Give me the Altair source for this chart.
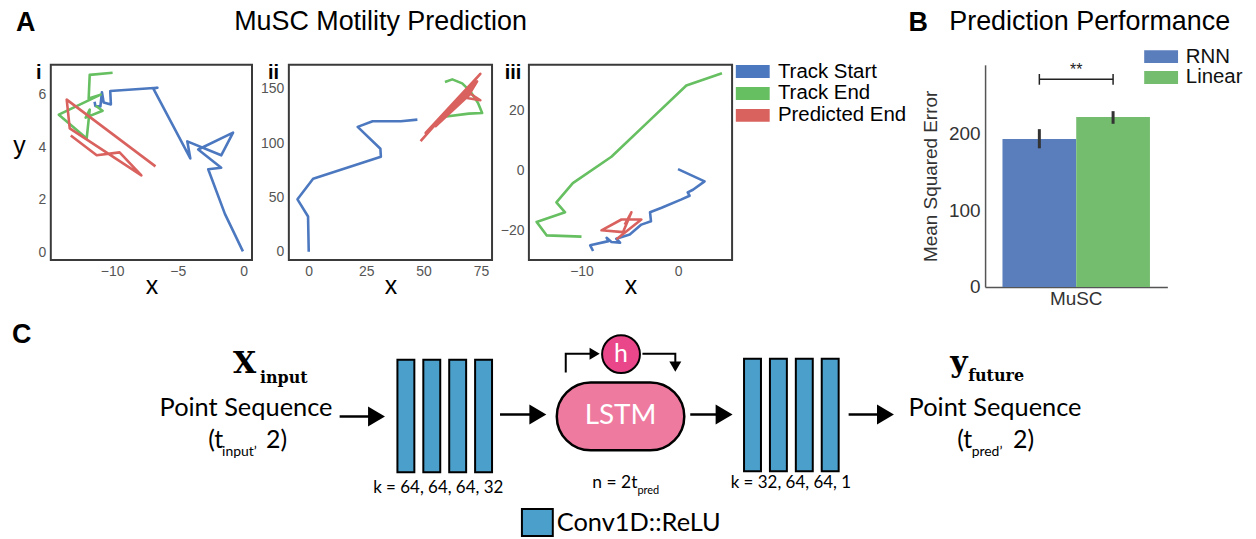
import altair as alt
import pandas as pd

FONT = "Liberation Sans"
DFONT = "Lato"
SERIF = "DejaVu Serif"

# ---------------- Panel A : MuSC tracks ----------------
SERIES = ["Track Start", "Track End", "Predicted End"]
SERIES_COLORS = ["#4C78C0", "#66BF60", "#D9625F"]

I_START_X = [-0.05, -1.42, -2.69, -1.70, -3.45, -0.80, -1.70, -4.28, -4.05, -6.86, -6.55,
             -10.14, -10.09, -10.64, -10.77, -10.89, -11.27, -11.33]
I_START_Y = [0.05, 1.47, 3.16, 3.22, 3.91, 4.55, 3.69, 4.22, 3.57, 6.22, 6.25,
             6.13, 5.62, 5.69, 6.08, 5.54, 5.56, 5.72]
I_END_X = [-11.25, -10.72, -12.01, -11.70, -11.93, -14.05, -10.87, -11.78, -11.70, -9.96]
I_END_Y = [5.57, 5.38, 5.12, 5.42, 4.33, 5.23, 5.99, 5.84, 6.74, 6.82]
I_PRED_X = [-6.70, -13.45, -13.22, -7.77, -9.43, -11.17, -13.14]
I_PRED_Y = [3.27, 5.80, 4.71, 2.93, 3.80, 3.69, 4.44]

II_START_X = [0.0, -0.3, -4.9, 1.9, 31.4, 31.2, 21.3, 27.8, 40.1, 47.3]
II_START_Y = [0.0, 32.4, 48.3, 67.3, 87.5, 94.9, 115.1, 120.3, 120.3, 121.8]
II_END_X = [58.1, 69.7, 75.5, 73.7, 70.4, 66.8, 62.5, 59.3]
II_END_Y = [124.2, 127.3, 127.9, 137.1, 147.8, 155.2, 158.9, 156.4]
II_PRED_X = [48.7, 74.7, 50.9, 73.3, 68.9, 74.7, 70.4, 55.2, 71.9]
II_PRED_Y = [101.9, 164.0, 109.5, 157.0, 141.7, 139.6, 145.6, 115.7, 152.4]

III_START_X = [-8.8, -9.1, -7.2, -7.4, -6.9, -6.0, -6.4, -5.0, -3.8, -2.8, -2.9, -1.7,
               0.3, 1.2, 1.0, 1.55, 2.75, 0.0]
III_START_Y = [-26.7, -24.8, -23.4, -22.3, -23.7, -23.9, -22.6, -21.2, -17.9, -16.8, -13.8, -12.3,
               -9.6, -8.3, -7.2, -6.3, -3.5, 0.55]
III_END_X = [-10.0, -13.6, -14.65, -11.7, -12.6, -10.9, -6.9, -3.1, 0.86, 4.55]
III_END_Y = [-21.9, -21.5, -17.0, -13.8, -10.5, -4.1, 4.7, 16.3, 28.4, 32.5]
III_PRED_X = [-6.38, -3.80, -5.86, -7.93, -5.69, -4.83, -5.52]
III_PRED_Y = [-22.8, -16.2, -16.2, -19.8, -20.4, -13.8, -17.9]

# ---------------- Panel B : bars ----------------
MODELS = ["RNN", "Linear"]
MODEL_COLORS = ["#5A7DBB", "#74BD6E"]
GROUP = "MuSC"
MSE = [193, 222]
ERR_LO = [181, 213]
ERR_HI = [206, 229.5]
SIG_Y = 271
SIG_TICK = [264, 278]
SIG_TEXT_Y = 283
SIG_TEXT = "**"

# ---------------- Panel C : schematic (diagram units) ----------------
CONV_COLOR = "#4B9FCB"
CONV_X0 = [395, 421, 447, 473, 743, 769, 795, 821]
CONV_X1 = [412, 438, 464, 490, 760, 786, 812, 838]
CONV_Y0 = [59, 59, 59, 59, 58, 58, 58, 58]
CONV_Y1 = [172, 172, 172, 172, 171, 171, 171, 171]
ARROW_X0 = [337, 498, 689, 848]
ARROW_X1 = [374, 536, 723, 885]
ARROW_Y = [116, 114, 114, 114]
LOOP_ID = ["in", "in", "in", "out", "out", "out"]
LOOP_X = [564, 564, 593, 641, 674, 674]
LOOP_Y = [72, 53, 53, 53, 53, 66]
SMALL_RIGHT = [(593, 53)]
SMALL_DOWN = [(674, 66)]
LSTM_BOX = [(555, 683, 82, 150)]
H_CIRCLE = [(619.5, 53.5)]
LEGEND_BOX = [(520, 551, 209, 236)]

RIGHT_HEAD = "M-0.85,-1L0.85,0L-0.85,1Z"
DOWN_HEAD = "M-1,-0.85L1,-0.85L0,0.85Z"
SWATCH = "M-2.615,-1L2.615,-1L2.615,1L-2.615,1Z"

# ---------------- helpers ----------------
AXIS_STYLE = dict(ticks=False, domain=False, grid=False, labelFont=FONT,
                  labelFontSize=14, labelColor="#555555", labelPadding=5)


def track_rows(xs_list, ys_list):
    rows = []
    for s, xs, ys in zip(SERIES, xs_list, ys_list):
        for k, (x, y) in enumerate(zip(xs, ys)):
            rows.append({"series": s, "step": k, "x": x, "y": y})
    return pd.DataFrame(rows)


def note(text, dx, dy, **kw):
    return alt.Chart(pd.DataFrame({"t": [text]})).mark_text(**kw).encode(
        text="t:N", x=alt.value(dx), y=alt.value(dy))


def panel(tag, tag_dx, df, xdom, ydom, xticks, yticks, width, legend, ytitle, extra):
    if ytitle:
        yaxis = alt.Axis(values=yticks, title="y", titleAngle=0, titleX=-32, titleY=89,
                         titleAlign="center", titleBaseline="alphabetic", titleFont=FONT,
                         titleFontSize=25, titleFontWeight="normal", titleColor="black",
                         **AXIS_STYLE)
    else:
        yaxis = alt.Axis(values=yticks, title=None, **AXIS_STYLE)
    xs = alt.Scale(domain=xdom, nice=False, zero=False)
    ys = alt.Scale(domain=ydom, nice=False, zero=False)
    lines = alt.Chart(df).mark_line(strokeJoin="round").encode(
        x=alt.X("x:Q", scale=xs,
                axis=alt.Axis(values=xticks, title="x", titleFont=FONT, titleFontSize=25,
                              titleFontWeight="normal", titleColor="black", titleY=34,
                              titleBaseline="alphabetic", **AXIS_STYLE)),
        y=alt.Y("y:Q", scale=ys, axis=yaxis),
        color=alt.Color("series:N", scale=alt.Scale(domain=SERIES, range=SERIES_COLORS),
                        legend=None),
        order="step:Q",
        strokeWidth=alt.value(2.6),
    )
    layers = [lines]
    if legend is not None:
        # zero-size cells at each track's first point: they only carry the filled legend
        firsts = df.groupby("series", sort=False).first().reset_index().rename(
            columns={"series": "track"})
        layers.append(alt.Chart(firsts).mark_rect(strokeWidth=0).encode(
            x=alt.X("x:Q", scale=xs), x2="x:Q", y=alt.Y("y:Q", scale=ys), y2="y:Q",
            fill=alt.Fill("track:N", sort=SERIES, scale=alt.Scale(range=SERIES_COLORS),
                          legend=legend)))
    tag_text = note(tag, tag_dx, 14, font=FONT, fontSize=20, fontWeight="bold",
                    align="center", baseline="alphabetic", color="black")
    return alt.layer(*layers, tag_text, *extra).properties(
        width=width, height=196,
        view=alt.ViewBackground(stroke="#3a3a3a", strokeWidth=2))


def spacer(w):
    return alt.Chart(pd.DataFrame({"v": [0]})).mark_point(opacity=0).encode(
        x=alt.value(0), y=alt.value(0)).properties(width=w, height=10)


legend_a = alt.Legend(orient="none", legendX=214.5, legendY=-3.5, title=None,
                      symbolType=SWATCH, symbolSize=169, symbolStrokeWidth=0,
                      labelFont=FONT, labelFontSize=20.5, labelColor="black", labelOffset=15,
                      rowPadding=1, padding=0, labelLimit=300)

p1 = panel("i", -12, track_rows([I_START_X, I_END_X, I_PRED_X], [I_START_Y, I_END_Y, I_PRED_Y]),
           [-14.66, 0.64], [-0.28, 7.12], [-10, -5, 0], [0, 2, 4, 6], 202, None, True,
           [note("A", -35, -34, font=FONT, fontSize=27, fontWeight="bold", align="left",
                 baseline="alphabetic", color="black"),
            note("MuSC Motility Prediction", 331, -35, font=FONT, fontSize=27, align="center",
                 baseline="alphabetic", color="black")])
p2 = panel("ii", -15.5, track_rows([II_START_X, II_END_X, II_PRED_X], [II_START_Y, II_END_Y, II_PRED_Y]),
           [-8.66, 79.8], [-7.7, 172.3], [0, 25, 50, 75], [0, 50, 100, 150], 204, None, False, [])
p3 = panel("iii", -16, track_rows([III_START_X, III_END_X, III_PRED_X], [III_START_Y, III_END_Y, III_PRED_Y]),
           [-15.45, 5.6], [-29.7, 35.3], [-10, 0], [-20, 0, 20], 204, legend_a, False, [])

# ---------------- bar chart ----------------
bar_df = pd.DataFrame({"group": [GROUP] * 2, "model": MODELS, "mse": MSE,
                       "lo": ERR_LO, "hi": ERR_HI})
bx = alt.X("group:N", scale=alt.Scale(paddingInner=0, paddingOuter=0.118),
           axis=alt.Axis(title=None, labelAngle=0, ticks=False, domain=True, domainColor="#555555",
                         domainWidth=1.5, grid=False, labelFont=FONT, labelFontSize=19,
                         labelColor="#333333", labelPadding=3))
bxo = alt.XOffset("model:N", scale=alt.Scale(domain=MODELS, paddingInner=0, paddingOuter=0))
by = alt.Y("mse:Q", scale=alt.Scale(domain=[0, 290], nice=False),
           axis=alt.Axis(values=[0, 100, 200], title="Mean Squared Error", ticks=False, domain=True,
                         domainColor="#555555", domainWidth=1.5, grid=False, labelFont=FONT,
                         labelFontSize=19, labelColor="#333333", labelPadding=5,
                         titleFont=FONT, titleFontSize=19, titleFontWeight="normal",
                         titleColor="#333333", titlePadding=8))
legend_b = alt.Legend(orient="none", legendX=166.5, legendY=-18.5, title=None,
                      symbolType=SWATCH, symbolSize=169,
                      symbolStrokeWidth=0, labelFont=FONT, labelFontSize=20.5, labelColor="#111111",
                      labelOffset=14.5, rowPadding=0, padding=0)
bars = alt.Chart(bar_df).mark_bar().encode(
    x=bx, xOffset=bxo, y=by,
    color=alt.Color("model:N", scale=alt.Scale(domain=MODELS, range=MODEL_COLORS), legend=legend_b))
errs = alt.Chart(bar_df).mark_rule(color="#333333", strokeWidth=3).encode(
    x="group:N", xOffset="model:N", y="lo:Q", y2="hi:Q")
sig_df = pd.DataFrame({"group": [GROUP] * 2, "model": MODELS, "y": [SIG_Y] * 2,
                       "t0": [SIG_TICK[0]] * 2, "t1": [SIG_TICK[1]] * 2})
sig_line = alt.Chart(sig_df).mark_line(color="#222222", strokeWidth=1.5).encode(
    x="group:N", xOffset="model:N", y="y:Q")
sig_ticks = alt.Chart(sig_df).mark_rule(color="#222222", strokeWidth=1.5).encode(
    x="group:N", xOffset="model:N", y="t0:Q", y2="t1:Q")
sig_text = alt.Chart(pd.DataFrame({"group": [GROUP], "y": [SIG_TEXT_Y], "t": [SIG_TEXT]})).mark_text(
    font=FONT, fontSize=16, color="#222222", baseline="middle").encode(x="group:N", y="y:Q", text="t:N")
bchart = alt.layer(
    bars, errs, sig_line, sig_ticks, sig_text,
    note("B", -77, -34, font=FONT, fontSize=27, fontWeight="bold", align="left",
         baseline="alphabetic", color="black"),
    note("Prediction Performance", 105, -35, font=FONT, fontSize=27, align="center",
         baseline="alphabetic", color="black"),
).properties(width=183, height=223)

top = alt.hconcat(spacer(10), p1, p2, p3, spacer(180), bchart,
                  spacing=37, bounds="flush").resolve_scale(color="independent",
                                                              fill="independent")

# ---------------- diagram ----------------
DX = alt.Scale(domain=[0, 1256], nice=False, zero=False)
DY = alt.Scale(domain=[0, 239], nice=False, zero=False, reverse=True)


def dxy(xf, yf):
    return dict(x=alt.X(xf, scale=DX, axis=None), y=alt.Y(yf, scale=DY, axis=None))


bounds_rect = alt.Chart(pd.DataFrame({"v": [0]})).mark_rect(opacity=0).encode(
    x=alt.value(0), x2=alt.value(1256), y=alt.value(-300), y2=alt.value(239))

conv_df = pd.DataFrame({"x0": CONV_X0, "x1": CONV_X1, "y0": CONV_Y0, "y1": CONV_Y1})
conv = alt.Chart(conv_df).mark_rect(fill=CONV_COLOR, stroke="black", strokeWidth=2).encode(
    x2="x1:Q", y2="y1:Q", **dxy("x0:Q", "y0:Q"))

arrow_df = pd.DataFrame({"x0": ARROW_X0, "x1": ARROW_X1, "y": ARROW_Y})
shafts = alt.Chart(arrow_df).mark_rule(color="black", strokeWidth=2.5).encode(
    x2="x1:Q", **dxy("x0:Q", "y:Q"))
heads = alt.Chart(arrow_df).mark_point(shape=RIGHT_HEAD, size=400, filled=True, color="black",
                                       opacity=1).encode(**dxy("x1:Q", "y:Q"))

loop_df = pd.DataFrame({"id": LOOP_ID, "k": list(range(len(LOOP_X))), "x": LOOP_X, "y": LOOP_Y})
loops = alt.Chart(loop_df).mark_line(color="black", strokeWidth=2).encode(
    detail="id:N", order="k:Q", **dxy("x:Q", "y:Q"))
sr_df = pd.DataFrame({"x": [p[0] for p in SMALL_RIGHT], "y": [p[1] for p in SMALL_RIGHT]})
sd_df = pd.DataFrame({"x": [p[0] for p in SMALL_DOWN], "y": [p[1] for p in SMALL_DOWN]})
small_r = alt.Chart(sr_df).mark_point(shape=RIGHT_HEAD, size=144, filled=True, color="black",
                                      opacity=1).encode(**dxy("x:Q", "y:Q"))
small_d = alt.Chart(sd_df).mark_point(shape=DOWN_HEAD, size=144, filled=True, color="black",
                                      opacity=1).encode(**dxy("x:Q", "y:Q"))

lstm_df = pd.DataFrame({"x0": [b[0] for b in LSTM_BOX], "x1": [b[1] for b in LSTM_BOX],
                        "y0": [b[2] for b in LSTM_BOX], "y1": [b[3] for b in LSTM_BOX]})
lstm = alt.Chart(lstm_df).mark_rect(cornerRadius=34, fill="#EE7AA0", stroke="black",
                                    strokeWidth=2.5).encode(x2="x1:Q", y2="y1:Q", **dxy("x0:Q", "y0:Q"))
h_df = pd.DataFrame({"x": [c[0] for c in H_CIRCLE], "y": [c[1] for c in H_CIRCLE]})
hcirc = alt.Chart(h_df).mark_point(shape="circle", size=1444, filled=True, fill="#E9478A",
                                   stroke="black", strokeWidth=2, opacity=1).encode(**dxy("x:Q", "y:Q"))

lg_df = pd.DataFrame({"x0": [b[0] for b in LEGEND_BOX], "x1": [b[1] for b in LEGEND_BOX],
                      "y0": [b[2] for b in LEGEND_BOX], "y1": [b[3] for b in LEGEND_BOX]})
lg_box = alt.Chart(lg_df).mark_rect(fill=CONV_COLOR, stroke="black", strokeWidth=2).encode(
    x2="x1:Q", y2="y1:Q", **dxy("x0:Q", "y0:Q"))


def dtext(texts, xs, ys, **kw):
    df = pd.DataFrame({"t": texts, "x": xs, "y": ys})
    return alt.Chart(df).mark_text(**kw).encode(text="t:N", **dxy("x:Q", "y:Q"))


t_main_c = dtext(["Point Sequence", "Point Sequence"], [243, 995], [108, 108],
                 font=DFONT, fontSize=25.5, align="center", baseline="middle", color="black")
t_main_l = dtext(["(t", "2)", "(t", "2)"], [205, 263, 957, 1013], [148, 148, 148, 148],
                 font=DFONT, fontSize=25, align="left", baseline="alphabetic", color="black")
t_sub = dtext(["input\u2019", "pred\u2019"], [219, 971.5], [156, 156],
              font=DFONT, fontSize=14, align="left", baseline="alphabetic", color="black")
t_k = dtext(["k = 64, 64, 64, 32", "k = 32, 64, 64, 1"], [436, 790], [188, 183],
            font=DFONT, fontSize=17, align="center", baseline="middle", color="black")
t_n = dtext(["n = 2t"], [636], [183], font=DFONT, fontSize=17.5, align="right",
            baseline="middle", color="black")
t_n_sub = dtext(["pred"], [636], [191], font=DFONT, fontSize=11, align="left",
                baseline="middle", color="black")
t_lstm = dtext(["LSTM"], [619], [116], font=DFONT, fontSize=28, align="center",
               baseline="middle", color="white")
t_h = dtext(["h"], [619.5], [53], font=DFONT, fontSize=25, align="center",
            baseline="middle", color="white")
t_leg = dtext(["Conv1D::ReLU"], [555], [223], font=DFONT, fontSize=25.5, align="left",
              baseline="middle", color="black")
t_big = dtext(["X", "y"], [230, 950], [72, 71], font=SERIF, fontSize=30, fontWeight="bold",
              align="left", baseline="alphabetic", color="black")
t_big_sub = dtext(["input", "future"], [257, 968], [82, 80], font=SERIF, fontSize=16,
                  fontWeight="bold", align="left", baseline="alphabetic", color="black")
t_c = dtext(["C"], [8], [42], font=FONT, fontSize=27, fontWeight="bold", align="left",
            baseline="alphabetic", color="black")

diagram = alt.layer(
    bounds_rect, shafts, heads, conv, lstm, loops, small_r, small_d, hcirc, lg_box,
    t_main_c, t_main_l, t_sub, t_k, t_n, t_n_sub, t_lstm, t_h, t_leg, t_big, t_big_sub, t_c,
).properties(width=1256, height=239)

chart = alt.vconcat(top, diagram, spacing=237, bounds="flush").properties(
    padding=0, background="white").configure_view(stroke="transparent")

chart.save("out.html", embed_options={"renderer": "svg", "actions": False})
